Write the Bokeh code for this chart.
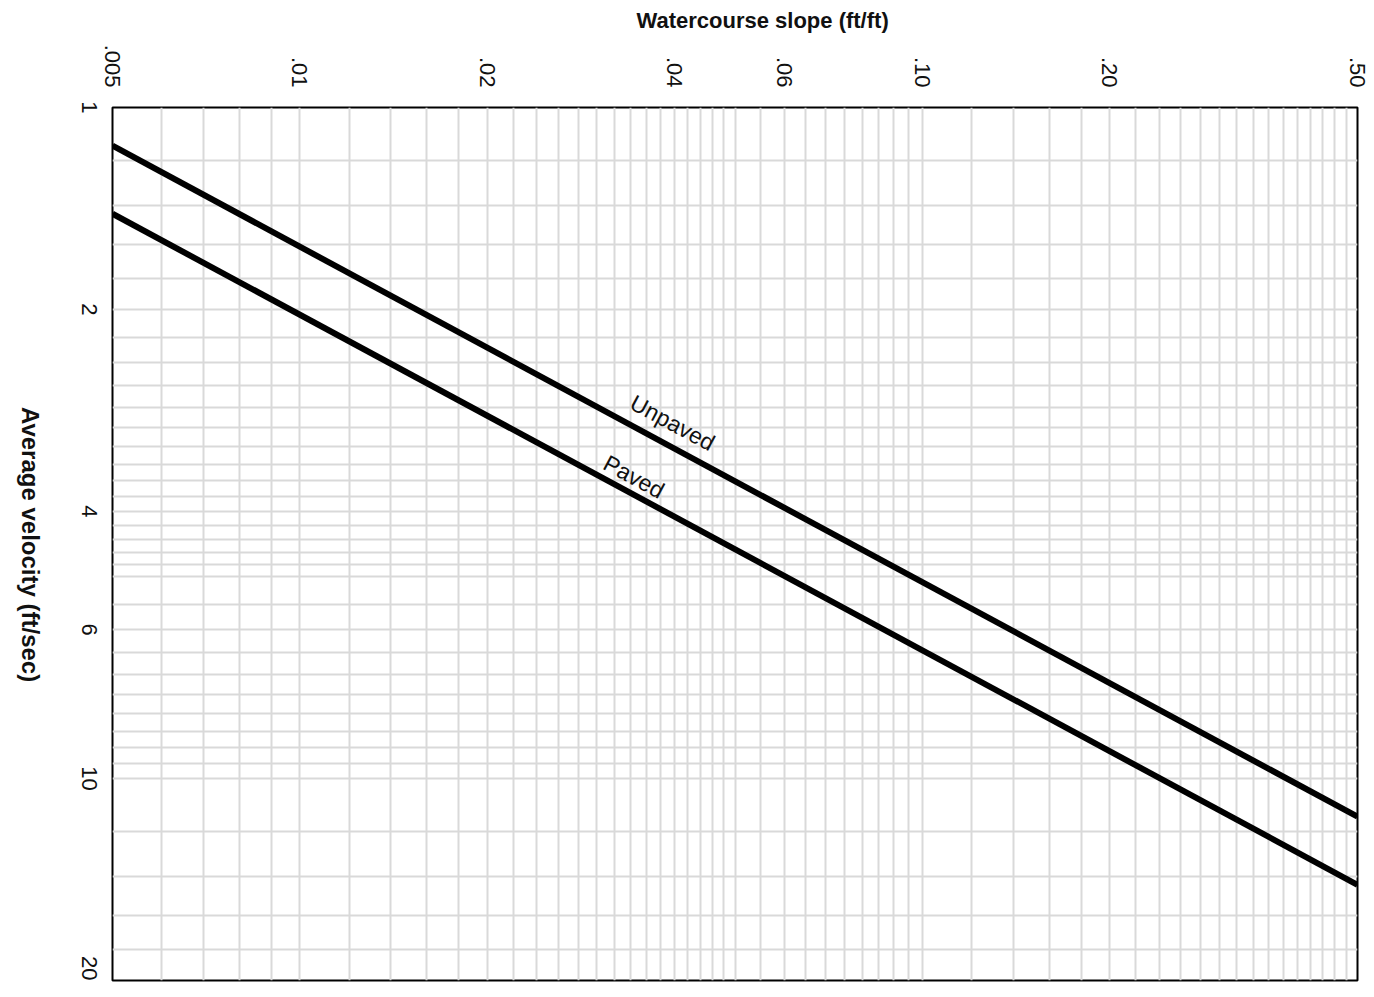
import math
from bokeh.plotting import figure
from bokeh.models import Range1d, FixedTicker, ColumnDataSource, LogAxis
from bokeh.core.properties import value
from bokeh.embed import file_html
from bokeh.resources import INLINE

# ---- data ----
slope = [0.005, 0.5]
unpaved_velocity = [1.14, 11.4]
paved_velocity = [1.44, 14.4]

x_tick_values = [0.005, 0.01, 0.02, 0.04, 0.06, 0.1, 0.2, 0.5]
x_tick_labels = [".005", ".01", ".02", ".04", ".06", ".10", ".20", ".50"]
y_tick_values = [1, 2, 4, 6, 10, 20]
y_tick_labels = ["1", "2", "4", "6", "10", "20"]

curve_label_text = ["Unpaved", "Paved"]
curve_label_slope = [0.0397, 0.0344]
curve_label_velocity = [2.95, 3.55]

# grid (log paper) lines
grid_x = ([round(0.005 + 0.001 * i, 4) for i in range(6)]
          + [round(0.012 + 0.002 * i, 4) for i in range(20)]
          + [round(0.055 + 0.005 * i, 4) for i in range(10)]
          + [round(0.12 + 0.02 * i, 4) for i in range(20)])
grid_y = ([round(1.2 + 0.2 * i, 3) for i in range(20)]
          + [round(5.5 + 0.5 * i, 3) for i in range(10)]
          + [round(12 + 2 * i, 3) for i in range(5)])

FONT = "Liberation Sans"
FRAME_H = 873
TICK_FS = 22
CAP_FS = 24
Y_MIN, Y_MAX = 1, 20

p = figure(width=1372, height=988, output_backend="svg", toolbar_location=None,
           x_axis_type="log", y_axis_type="log",
           x_range=Range1d(0.005, 0.5), y_range=Range1d(Y_MAX, Y_MIN),
           x_axis_location="above", y_axis_location="left",
           min_border_left=112, min_border_top=107, min_border_right=15, min_border_bottom=8,
           background_fill_color="white", border_fill_color="white")

p.outline_line_color = "black"
p.outline_line_width = 2

# title used as the x-axis caption (offset to match the original)
p.title.text = "Watercourse slope (ft/ft)"
p.title.align = "left"
p.title.offset = 524
p.title.vertical_align = "top"
p.title.text_font = FONT
p.title.text_font_style = "bold"
p.title.text_font_size = "22px"
p.title.text_color = "#111111"
p.title.standoff = 14

# grids
p.xgrid.ticker = FixedTicker(ticks=grid_x)
p.ygrid.ticker = FixedTicker(ticks=grid_y)
for g in (p.xgrid, p.ygrid):
    g.grid_line_color = "#d9d9d9"
    g.grid_line_width = 2
    g.minor_grid_line_color = None

def plain(ax):
    ax.axis_line_color = None
    ax.major_tick_line_color = None
    ax.minor_tick_line_color = None
    ax.major_tick_out = 0
    ax.major_tick_in = 0
    ax.major_label_text_font = FONT
    ax.major_label_text_color = "#111111"

# top axis
xa = p.xaxis[0]
xa.ticker = FixedTicker(ticks=x_tick_values, minor_ticks=[])
xa.major_label_overrides = {v: t for v, t in zip(x_tick_values, x_tick_labels)}
xa.major_label_orientation = -math.pi / 2
xa.major_label_standoff = 20
plain(xa)
xa.major_label_text_font_size = f"{TICK_FS}px"

# left axis: rotated labels are end-anchored by Bokeh, so move each anchor
# half a label length down to centre the label on its value
px_per_decade = FRAME_H / math.log10(Y_MAX / Y_MIN)
def centred(v, label):
    half = 0.556 * TICK_FS * len(label) / 2
    return min(v * 10 ** (half / px_per_decade), Y_MAX)

ya = p.yaxis[0]
y_anchor = [centred(v, t) for v, t in zip(y_tick_values, y_tick_labels)]
ya.ticker = FixedTicker(ticks=y_anchor, minor_ticks=[])
ya.major_label_overrides = {a: t for a, t in zip(y_anchor, y_tick_labels)}
ya.major_label_orientation = -math.pi / 2
ya.major_label_standoff = 23
plain(ya)
ya.major_label_text_font_size = f"{TICK_FS}px"

# y caption on its own axis; range 1..10 on the log scale = frame fraction 0..1
caption = "Average velocity  (ft/sec)"
caption_len = 11.78 * CAP_FS
caption_center = 0.496
p.extra_y_ranges = {"caption": Range1d(1, 10)}
cap_frac = caption_center - (caption_len / 2) / FRAME_H
cap_pos = 10 ** cap_frac
cap_axis = LogAxis(y_range_name="caption", ticker=FixedTicker(ticks=[cap_pos], minor_ticks=[]),
                   major_label_overrides={cap_pos: caption},
                   major_label_orientation=-math.pi / 2, major_label_standoff=41)
plain(cap_axis)
cap_axis.major_label_text_font_size = f"{CAP_FS}px"
cap_axis.major_label_text_font_style = "bold"
p.add_layout(cap_axis, "left")

# curves
src_u = ColumnDataSource(dict(x=slope, y=unpaved_velocity))
src_p = ColumnDataSource(dict(x=slope, y=paved_velocity))
p.line("x", "y", source=src_u, line_color="black", line_width=6)
p.line("x", "y", source=src_p, line_color="black", line_width=6)

p.text(x=curve_label_slope, y=curve_label_velocity, text=curve_label_text,
       angle=-0.494, text_align="center", text_baseline="middle",
       text_font=value(FONT), text_font_size="23px", text_color="#111111")

open("out.html", "w").write(file_html(p, INLINE))
